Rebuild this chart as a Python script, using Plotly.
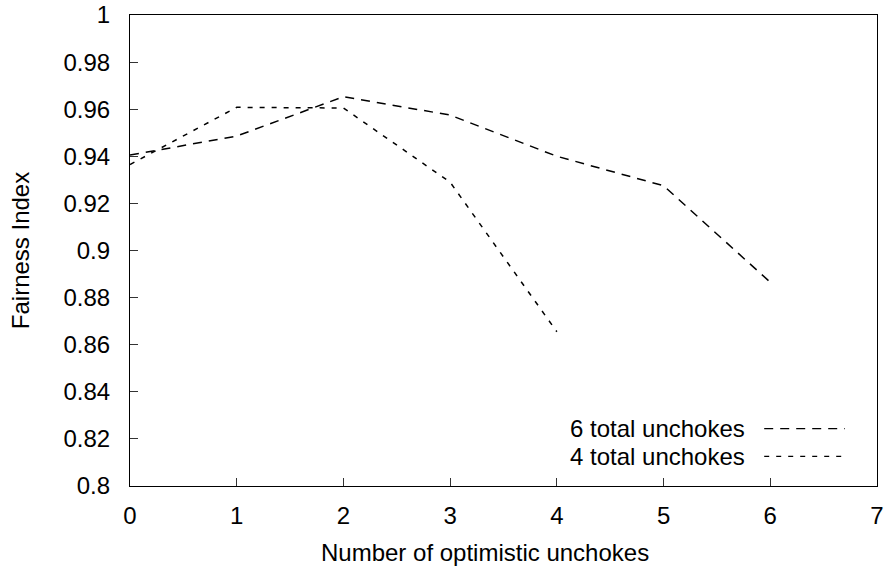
import plotly.graph_objects as go

# Fairness index vs. number of optimistic unchokes
x_unchokes_6 = [0, 1, 2, 3, 4, 5, 6]
fairness_6 = [0.9405, 0.9486, 0.9653, 0.9575, 0.9400, 0.9275, 0.8865]

x_unchokes_4 = [0, 1, 2, 3, 4]
fairness_4 = [0.9365, 0.9608, 0.9605, 0.9290, 0.8655]

series_names = ["6 total unchokes", "4 total unchokes"]
x_ticks = [0, 1, 2, 3, 4, 5, 6, 7]
y_ticks = [0.8, 0.82, 0.84, 0.86, 0.88, 0.9, 0.92, 0.94, 0.96, 0.98, 1]
y_tick_text = ["0.8", "0.82", "0.84", "0.86", "0.88", "0.9", "0.92", "0.94", "0.96", "0.98", "1"]
x_label = "Number of optimistic unchokes"
y_label = "Fairness Index"

FONT = "Liberation Sans, Arial, Helvetica, sans-serif"
dash_styles = ["9px,7px", "5px,7px"]

fig = go.Figure()
fig.add_trace(go.Scatter(x=x_unchokes_6, y=fairness_6, mode="lines", name=series_names[0],
                         line=dict(color="black", width=1.5, dash=dash_styles[0]),
                         showlegend=False))
fig.add_trace(go.Scatter(x=x_unchokes_4, y=fairness_4, mode="lines", name=series_names[1],
                         line=dict(color="black", width=1.5, dash=dash_styles[1]),
                         showlegend=False))

# Key in the lower right: label text followed by a line sample
key_rows = [0.122, 0.063]
for name, dash, ky in zip(series_names, dash_styles, key_rows):
    fig.add_annotation(x=0.826, y=ky, xref="paper", yref="paper", text=name,
                       showarrow=False, xanchor="right", yanchor="middle",
                       font=dict(family=FONT, size=24, color="black"))
    fig.add_shape(type="line", xref="paper", yref="paper",
                  x0=0.849, x1=0.957, y0=ky, y1=ky,
                  line=dict(color="black", width=1.2, dash=dash))

# x-axis caption, set slightly left of the plot centre
fig.add_annotation(x=0.475, y=-0.142, xref="paper", yref="paper", text=x_label,
                   showarrow=False, xanchor="center", yanchor="middle",
                   font=dict(family=FONT, size=24, color="black"))

axis_common = dict(
    showgrid=False, zeroline=False, showline=True, linecolor="black", linewidth=1.2,
    mirror=True, ticks="inside", ticklen=8, tickwidth=1, tickcolor="#333",
    tickfont=dict(family=FONT, size=24, color="black"), automargin=False,
)

fig.update_xaxes(range=[0, 7], tickvals=x_ticks, ticklabelstandoff=8, **axis_common)
fig.update_yaxes(range=[0.8, 1], tickvals=y_ticks, ticktext=y_tick_text, ticklabelstandoff=14,
                 title=dict(text=y_label, standoff=26,
                            font=dict(family=FONT, size=24, color="black")),
                 **axis_common)

fig.update_layout(
    width=887, height=571,
    margin=dict(l=130, r=10, t=15, b=85),
    paper_bgcolor="white", plot_bgcolor="white",
    font=dict(family=FONT, size=24, color="black"),
)

fig.write_html("out.html")
